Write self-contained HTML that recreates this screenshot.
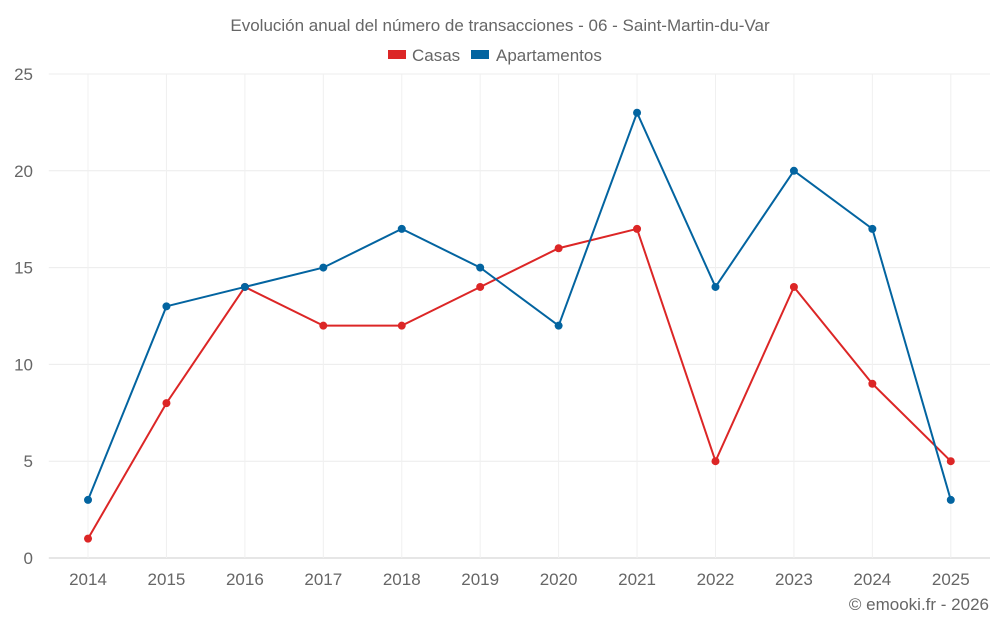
<!DOCTYPE html>
<html><head><meta charset="utf-8">
<style>
body{margin:0;background:#fff;font-family:"Liberation Sans",Roboto,sans-serif;}
svg text{font-family:"Liberation Sans",sans-serif;fill:#666;}
</style></head>
<body>
<svg id="chart" width="1000" height="625" xmlns="http://www.w3.org/2000/svg">
<text x="500" y="31" text-anchor="middle" font-size="17">Evolución anual del número de transacciones - 06 - Saint-Martin-du-Var</text>
<g>
<rect x="388" y="50" width="18" height="9" fill="#dc2626"/>
<text x="412" y="61" font-size="17">Casas</text>
<rect x="471" y="50" width="18" height="9" fill="#0364a0"/>
<text x="496" y="61" font-size="17">Apartamentos</text>
</g>
<g id="grid"></g><g id="axes"></g><g id="series"></g>
<text x="989" y="610" text-anchor="end" font-size="17">© emooki.fr - 2026</text>
</svg>
<script>
const categories=["2014","2015","2016","2017","2018","2019","2020","2021","2022","2023","2024","2025"];
const casas=[1,8,14,12,12,14,16,17,5,14,9,5];
const apartamentos=[3,13,14,15,17,15,12,23,14,20,17,3];
const yTicks=[0,5,10,15,20,25];
const NS="http://www.w3.org/2000/svg";
const L=48.8,R=990,T=74,B=558,yMax=25;
const bw=(R-L)/categories.length;
const x=i=>L+bw*(i+0.5);
const y=v=>B-(v/yMax)*(B-T);
function mk(tag,attrs,parent){const e=document.createElementNS(NS,tag);for(const k in attrs)e.setAttribute(k,attrs[k]);parent.appendChild(e);return e;}
const grid=document.getElementById('grid'),axes=document.getElementById('axes'),ser=document.getElementById('series');
yTicks.forEach(t=>{
 const l=mk('line',{x1:L,x2:R,y1:y(t),y2:y(t),stroke:t===0?'#ccc':'#ececec','stroke-width':1},grid);
 
 
 const tx=mk('text',{x:33,y:y(t)+6,'text-anchor':'end','font-size':17},axes);
 tx.textContent=t;
 
 
});
categories.forEach((c,i)=>{
 const l=mk('line',{x1:x(i),x2:x(i),y1:T,y2:B,stroke:'#f0f0f0','stroke-width':1},grid);
 
 
 const tx=mk('text',{x:x(i),y:585,'text-anchor':'middle','font-size':17},axes);
 tx.textContent=c;
 
 
});
function drawSeries(vals,color,name){
 const p=mk('polyline',{points:vals.map((v,i)=>x(i)+','+y(v)).join(' '),fill:'none',stroke:color,'stroke-width':2},ser);
 
 
 vals.forEach((v,i)=>{
  const c=mk('circle',{cx:x(i),cy:y(v),r:4,fill:color},ser);
  
  
 });
}
drawSeries(casas,'#dc2626','casas');
drawSeries(apartamentos,'#0364a0','apartamentos');
</script>
</body></html>
